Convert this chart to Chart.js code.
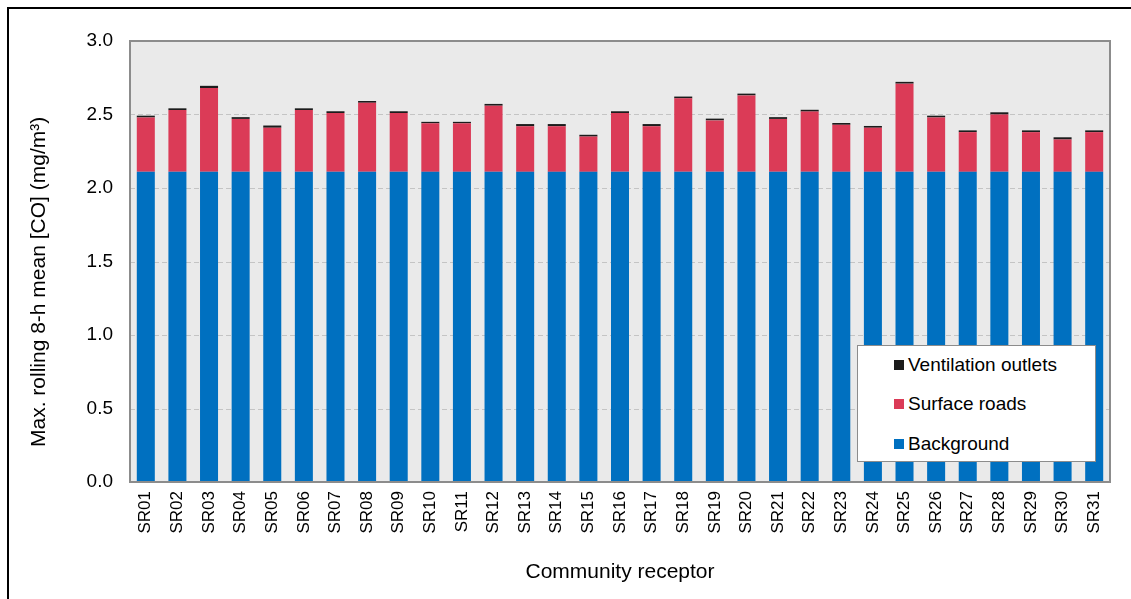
<!DOCTYPE html>
<html>
<head>
<meta charset="utf-8">
<script src="https://cdn.jsdelivr.net/npm/chart.js@4"></script>
<style>
  html, body { margin: 0; padding: 0; background: #fff; overflow: hidden; }
  #wrap { position: relative; width: 1131px; height: 599px; }
  #frame { position: absolute; left: 7px; top: 7px; width: 2000px; height: 2000px;
           border-top: 2px solid #000; border-left: 2px solid #000; pointer-events: none; }
  #legend { position: absolute; left: 857px; top: 345px; width: 237px; height: 115px;
            background: #fff; border: 1px solid #8c8c8c; box-sizing: content-box;
            font-family: "Liberation Sans", Arial, sans-serif; font-size: 19px; color: #000; }
  #legend div { position: absolute; left: 36px; height: 20px; line-height: 20px; white-space: nowrap; }
  #legend span { display: inline-block; width: 10px; height: 10px; margin-right: 4px; vertical-align: 1px; }
</style>
</head>
<body>
<div id="wrap">
  <canvas id="coChart" width="1131" height="599"></canvas>
  <div id="frame"></div>
  <div id="legend"></div>
</div>
<script>
const receptors = ["SR01","SR02","SR03","SR04","SR05","SR06","SR07","SR08","SR09","SR10",
                   "SR11","SR12","SR13","SR14","SR15","SR16","SR17","SR18","SR19","SR20",
                   "SR21","SR22","SR23","SR24","SR25","SR26","SR27","SR28","SR29","SR30","SR31"];

const background = [2.11,2.11,2.11,2.11,2.11,2.11,2.11,2.11,2.11,2.11,
                    2.11,2.11,2.11,2.11,2.11,2.11,2.11,2.11,2.11,2.11,
                    2.11,2.11,2.11,2.11,2.11,2.11,2.11,2.11,2.11,2.11,2.11];

const surfaceRoads = [0.37,0.42,0.57,0.36,0.30,0.42,0.40,0.47,0.40,0.33,
                      0.33,0.45,0.31,0.31,0.24,0.40,0.31,0.50,0.35,0.52,
                      0.36,0.41,0.32,0.30,0.60,0.37,0.27,0.39,0.27,0.22,0.27];

const ventilation = [0.012,0.012,0.015,0.012,0.015,0.012,0.012,0.012,0.012,0.01,
                     0.01,0.012,0.015,0.015,0.012,0.012,0.015,0.012,0.012,0.012,
                     0.012,0.012,0.012,0.012,0.012,0.012,0.012,0.015,0.012,0.015,0.012];

const yTicks = [0, 0.5, 1.0, 1.5, 2.0, 2.5, 3.0];

const FONT = "'Liberation Sans', Arial, sans-serif";

// plot area background, dashed gridlines and grey border
const plotFrame = {
    id: "plotFrame",
    beforeDatasetsDraw(chart) {
        const { ctx, chartArea: a } = chart;
        ctx.save();
        ctx.fillStyle = "#eaeaea";
        ctx.fillRect(a.left, a.top, a.width, a.height);
        const y = chart.scales.y;
        ctx.strokeStyle = "#c4c4c4";
        ctx.lineWidth = 1;
        ctx.setLineDash([5, 3]);
        yTicks.forEach(v => {
            if (v === 0 || v === 3.0) return;
            const py = Math.round(y.getPixelForValue(v)) + 0.5;
            ctx.beginPath();
            ctx.moveTo(a.left, py);
            ctx.lineTo(a.right, py);
            ctx.stroke();
        });
        ctx.restore();
    },
    afterDatasetsDraw(chart) {
        const { ctx, chartArea: a } = chart;
        ctx.save();
        ctx.strokeStyle = "#8c8c8c";
        ctx.lineWidth = 2;
        ctx.strokeRect(a.left, a.top, a.width, a.height);
        ctx.restore();
    }
};

const ctx = document.getElementById("coChart").getContext("2d");

let coChart = new Chart(ctx, {
    type: "bar",
    data: {
        labels: receptors,
        datasets: [
            { label: "Background", data: background, backgroundColor: "#0070c0" },
            { label: "Surface roads", data: surfaceRoads, backgroundColor: "#db3b57" },
            { label: "Ventilation outlets", data: ventilation, backgroundColor: "#1c1c1c" }
        ]
    },
    options: {
        responsive: false,
        animation: false,
        devicePixelRatio: 1,
        datasets: { bar: { barPercentage: 0.57, categoryPercentage: 1.0, borderWidth: 0 } },
        layout: { padding: { left: 0, top: 41, right: 21, bottom: 0 } },
        plugins: {
            legend: { display: false },
            tooltip: { enabled: false }
        },
        scales: {
            x: {
                stacked: true,
                grid: { display: false, drawTicks: false },
                border: { display: false },
                ticks: {
                    color: "#000",
                    font: { family: FONT, size: 17 },
                    minRotation: 90, maxRotation: 90,
                    autoSkip: false,
                    padding: 9
                },
                title: {
                    display: true,
                    text: "Community receptor",
                    color: "#000",
                    font: { family: FONT, size: 21 },
                    padding: { top: 0, bottom: 14 }
                },
                afterFit(scale) { scale.height = 117; }
            },
            y: {
                stacked: true,
                min: 0, max: 3.0,
                grid: { display: false, drawTicks: false },
                border: { display: false },
                afterBuildTicks(scale) { scale.ticks = yTicks.map(v => ({ value: v })); },
                ticks: {
                    color: "#000",
                    font: { family: FONT, size: 19 },
                    padding: 17,
                    callback: v => v.toFixed(1)
                },
                title: {
                    display: true,
                    // trailing spaces push the rotated text a bit lower, as in the original
                    text: "Max. rolling 8-h mean [CO] (mg/m³)       ",
                    color: "#000",
                    font: { family: FONT, size: 21 },
                    padding: { top: 27, bottom: 0 }
                },
                afterFit(scale) { scale.width = 130; }
            }
        }
    },
    plugins: [plotFrame]
});

// legend box inside the plot, reversed order like the reference
const legendBox = document.getElementById("legend");
const rowsTop = [9, 48, 88];
coChart.data.datasets.slice().reverse().forEach((ds, i) => {
    const row = document.createElement("div");
    row.style.top = rowsTop[i] + "px";
    row.innerHTML = `<span style="background:${ds.backgroundColor}"></span>${ds.label}`;
    legendBox.appendChild(row);
});
</script>
</body>
</html>
